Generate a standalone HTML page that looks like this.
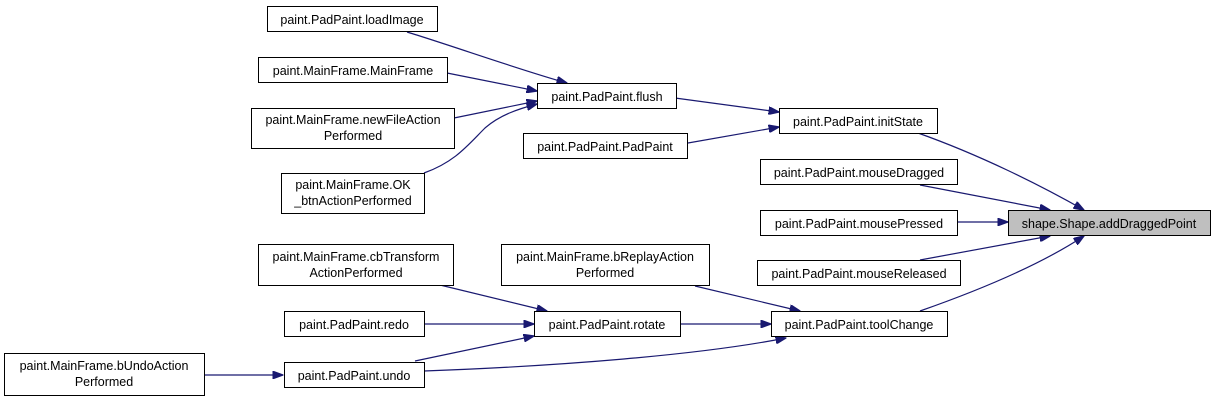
<!DOCTYPE html>
<html><head><meta charset="utf-8"><style>
html,body{margin:0;padding:0;background:#fff;}
svg{display:block}
text{font-family:"Liberation Sans",Arial,sans-serif;font-size:12.5px;fill:#000;text-anchor:middle}
rect{fill:#fff;stroke:#000;stroke-width:1}
path{fill:none;stroke:#191970;stroke-width:1.2}
</style></head><body>
<svg width="1216" height="401" viewBox="0 0 1216 401" xmlns="http://www.w3.org/2000/svg">
<defs><marker id="a" markerWidth="11" markerHeight="8" refX="10.5" refY="4" orient="auto" markerUnits="userSpaceOnUse"><path d="M0,0 L11,4 L0,8 Z" style="fill:#191970;stroke:#191970;stroke-width:1"/></marker></defs>
<!-- edges -->
<path marker-end="url(#a)" d="M407,32 C450,45 520,70 567,83"/>
<path marker-end="url(#a)" d="M447,73 L537,91"/>
<path marker-end="url(#a)" d="M454,118 L537,101"/>
<path marker-end="url(#a)" d="M424,173 C455,162 468,145 485,128 C500,115 518,109 537,104"/>
<path marker-end="url(#a)" d="M675,98 L779,112"/>
<path marker-end="url(#a)" d="M688,143 L779,127"/>
<path marker-end="url(#a)" d="M918,133 C980,155 1040,185 1084,210"/>
<path marker-end="url(#a)" d="M920,185 L1050,210"/>
<path marker-end="url(#a)" d="M958,222 L1008,222"/>
<path marker-end="url(#a)" d="M920,260 L1050,236"/>
<path marker-end="url(#a)" d="M920,311 C980,290 1040,265 1084,236"/>
<path marker-end="url(#a)" d="M695,286 L800,311"/>
<path marker-end="url(#a)" d="M680,324 L771,324"/>
<path marker-end="url(#a)" d="M424,371 C560,366 700,355 786,338"/>
<path marker-end="url(#a)" d="M440,285 L547,311"/>
<path marker-end="url(#a)" d="M424,324 L534,324"/>
<path marker-end="url(#a)" d="M415,361 L534,336"/>
<path marker-end="url(#a)" d="M204,375 L283,375"/>
<!-- nodes -->
<rect x="267.5" y="6.5" width="170" height="25"/><text x="352" y="24">paint.PadPaint.loadImage</text>
<rect x="258.5" y="57.5" width="189" height="25"/><text x="353" y="75">paint.MainFrame.MainFrame</text>
<rect x="251.5" y="108.5" width="203" height="40"/><text x="353" y="124">paint.MainFrame.newFileAction</text><text x="353" y="140">Performed</text>
<rect x="281.5" y="173.5" width="143" height="40"/><text x="353" y="189">paint.MainFrame.OK</text><text x="353" y="205">_btnActionPerformed</text>
<rect x="537.5" y="83.5" width="139" height="25"/><text x="607" y="101">paint.PadPaint.flush</text>
<rect x="523.5" y="133.5" width="164" height="25"/><text x="605" y="151">paint.PadPaint.PadPaint</text>
<rect x="779.5" y="108.5" width="158" height="25"/><text x="858" y="126">paint.PadPaint.initState</text>
<rect x="760.5" y="159.5" width="197" height="25"/><text x="859" y="177">paint.PadPaint.mouseDragged</text>
<rect x="760.5" y="210.5" width="197" height="25"/><text x="859" y="228">paint.PadPaint.mousePressed</text>
<rect x="757.5" y="260.5" width="203" height="25"/><text x="859" y="278">paint.PadPaint.mouseReleased</text>
<rect x="1008.5" y="210.5" width="202" height="25" style="fill:#bfbfbf"/><text x="1109" y="228">shape.Shape.addDraggedPoint</text>
<rect x="258.5" y="244.5" width="195" height="41"/><text x="356" y="261">paint.MainFrame.cbTransform</text><text x="356" y="277">ActionPerformed</text>
<rect x="501.5" y="244.5" width="208" height="41"/><text x="605" y="261">paint.MainFrame.bReplayAction</text><text x="605" y="277">Performed</text>
<rect x="284.5" y="311.5" width="140" height="25"/><text x="354" y="329">paint.PadPaint.redo</text>
<rect x="534.5" y="311.5" width="146" height="25"/><text x="607" y="329">paint.PadPaint.rotate</text>
<rect x="771.5" y="311.5" width="176" height="25"/><text x="859" y="329">paint.PadPaint.toolChange</text>
<rect x="4.5" y="353.5" width="200" height="42"/><text x="104" y="370">paint.MainFrame.bUndoAction</text><text x="104" y="386">Performed</text>
<rect x="284.5" y="362.5" width="140" height="25"/><text x="354" y="380">paint.PadPaint.undo</text>
</svg>
</body></html>
